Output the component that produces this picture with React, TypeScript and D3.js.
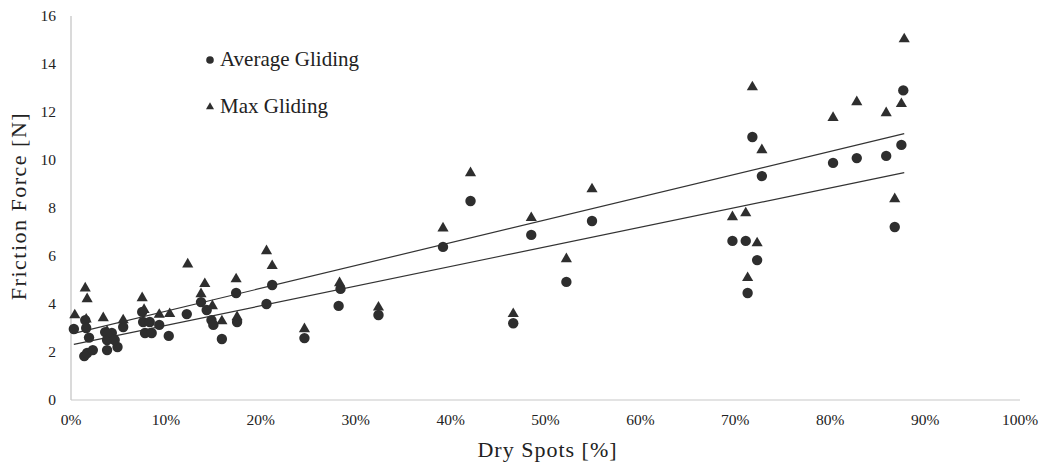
import { useMemo } from "react";
import * as d3 from "d3";

const WIDTH = 1046;
const HEIGHT = 465;
const MARGIN = { top: 16, right: 26, bottom: 65, left: 71 };

const X_TICKS = [0, 10, 20, 30, 40, 50, 60, 70, 80, 90, 100];
const Y_TICKS = [0, 2, 4, 6, 8, 10, 12, 14, 16];

// [dry spots %, friction N]
const averageGliding: [number, number][] = [
  [0.3, 2.96], [1.5, 3.33], [1.6, 3.0], [1.4, 1.83], [1.7, 1.96], [2.3, 2.08],
  [1.9, 2.6], [3.6, 2.83], [3.8, 2.5], [3.8, 2.08], [4.3, 2.79], [4.9, 2.21],
  [4.6, 2.5], [5.5, 3.04], [7.5, 3.67], [7.6, 3.25], [7.8, 2.79], [8.5, 2.79],
  [8.3, 3.25], [9.3, 3.13], [10.3, 2.67], [12.2, 3.58], [13.7, 4.08], [14.3, 3.75],
  [14.8, 3.33], [15.0, 3.13], [15.9, 2.54], [17.4, 4.46], [17.5, 3.25], [20.6, 4.0],
  [21.2, 4.79], [24.6, 2.58], [28.2, 3.92], [28.4, 4.63], [32.4, 3.54], [39.2, 6.38],
  [42.1, 8.29], [46.6, 3.2], [48.5, 6.88], [52.2, 4.92], [54.9, 7.46], [69.7, 6.63],
  [71.1, 6.63], [71.3, 4.46], [71.8, 10.96], [72.3, 5.83], [72.8, 9.33], [80.3, 9.88],
  [82.8, 10.08], [85.9, 10.17], [86.8, 7.21], [87.5, 10.63], [87.7, 12.9],
];

const maxGliding: [number, number][] = [
  [0.4, 3.58], [1.5, 4.7], [1.7, 4.25], [1.6, 3.4], [3.4, 3.46], [3.8, 2.9],
  [5.5, 3.37], [7.5, 4.29], [7.7, 3.8], [9.3, 3.6], [10.4, 3.63], [12.3, 5.7],
  [13.7, 4.46], [14.1, 4.88], [14.9, 3.96], [15.9, 3.33], [17.4, 5.08], [17.5, 3.5],
  [20.6, 6.25], [21.2, 5.63], [24.6, 3.0], [28.3, 4.92], [32.4, 3.9], [39.2, 7.2],
  [42.1, 9.5], [46.6, 3.63], [48.5, 7.63], [52.2, 5.92], [54.9, 8.83], [69.7, 7.67],
  [71.1, 7.83], [71.3, 5.13], [71.8, 13.08], [72.3, 6.58], [72.8, 10.46], [80.3, 11.8],
  [82.8, 12.46], [85.9, 12.0], [86.8, 8.42], [87.5, 12.38], [87.8, 15.08],
];

// linear trendlines: [intercept, slope]
const averageTrend = [2.29, 0.0818];
const maxTrend = [2.75, 0.0951];
const TREND_RANGE = [0.3, 87.8];

const MARK = "#2e2e2e";
const FONT = "'Liberation Serif', 'Times New Roman', serif";

export default function App() {
  const x = useMemo(
    () => d3.scaleLinear().domain([0, 100]).range([MARGIN.left, WIDTH - MARGIN.right]),
    []
  );
  const y = useMemo(
    () => d3.scaleLinear().domain([0, 16]).range([HEIGHT - MARGIN.bottom, MARGIN.top]),
    []
  );

  const trendLine = (coef: number[]) => {
    const pts = TREND_RANGE.map((v) => [v, coef[0] + coef[1] * v] as [number, number]);
    return d3
      .line<[number, number]>()
      .x((d) => x(d[0]))
      .y((d) => y(d[1]))(pts) ?? "";
  };

  const tri = d3.symbol().type(d3.symbolTriangle).size(54)() ?? "";
  const triSmall = d3.symbol().type(d3.symbolTriangle).size(28)() ?? "";

  return (
    <div style={{ position: "absolute", left: 0, top: 0 }}>
      <svg width={WIDTH} height={HEIGHT} style={{ display: "block", background: "#fff" }} fontFamily={FONT}>
        {/* axes */}
        <line x1={x(0)} x2={x(0)} y1={y(16)} y2={y(0)} stroke="#b5b5b5" strokeWidth={1} />
        <line x1={x(0)} x2={x(100)} y1={y(0)} y2={y(0)} stroke="#c8c8c8" strokeWidth={1.2} />

        {Y_TICKS.map((t) => (
          <text key={`y${t}`} x={x(0) - 15} y={y(t)} dy="0.35em" textAnchor="end" fontSize={15.5} fill="#222">
            {t}
          </text>
        ))}
        {X_TICKS.map((t) => (
          <text key={`x${t}`} x={x(t)} y={y(0) + 25} textAnchor="middle" fontSize={15.5} fill="#222">
            {`${t}%`}
          </text>
        ))}

        <text
          transform={`translate(26, ${(y(0) + y(16)) / 2 - 2}) rotate(-90)`}
          textAnchor="middle"
          fontSize={22}
          letterSpacing={1.5}
          fill="#222"
        >
          Friction Force [N]
        </text>
        <text
          x={(x(0) + x(100)) / 2 + 2}
          y={HEIGHT - 8}
          textAnchor="middle"
          fontSize={22}
          letterSpacing={1}
          fill="#222"
        >
          Dry Spots [%]
        </text>

        {/* trend lines */}
        <path d={trendLine(maxTrend)} fill="none" stroke="#333" strokeWidth={1.2} />
        <path d={trendLine(averageTrend)} fill="none" stroke="#333" strokeWidth={1.2} />

        {/* points */}
        {averageGliding.map((d, i) => (
          <circle key={`a${i}`} cx={x(d[0])} cy={y(d[1])} r={5.2} fill={MARK} />
        ))}
        {maxGliding.map((d, i) => (
          <path key={`m${i}`} d={tri} transform={`translate(${x(d[0])},${y(d[1]) + 1})`} fill={MARK} />
        ))}

        {/* legend */}
        <circle cx={210} cy={60} r={3.8} fill={MARK} />
        <text x={220} y={66} fontSize={21} fill="#222">
          Average Gliding
        </text>
        <path d={triSmall} transform="translate(210,107)" fill={MARK} />
        <text x={220} y={113} fontSize={21} fill="#222">
          Max Gliding
        </text>
      </svg>
    </div>
  );
}
